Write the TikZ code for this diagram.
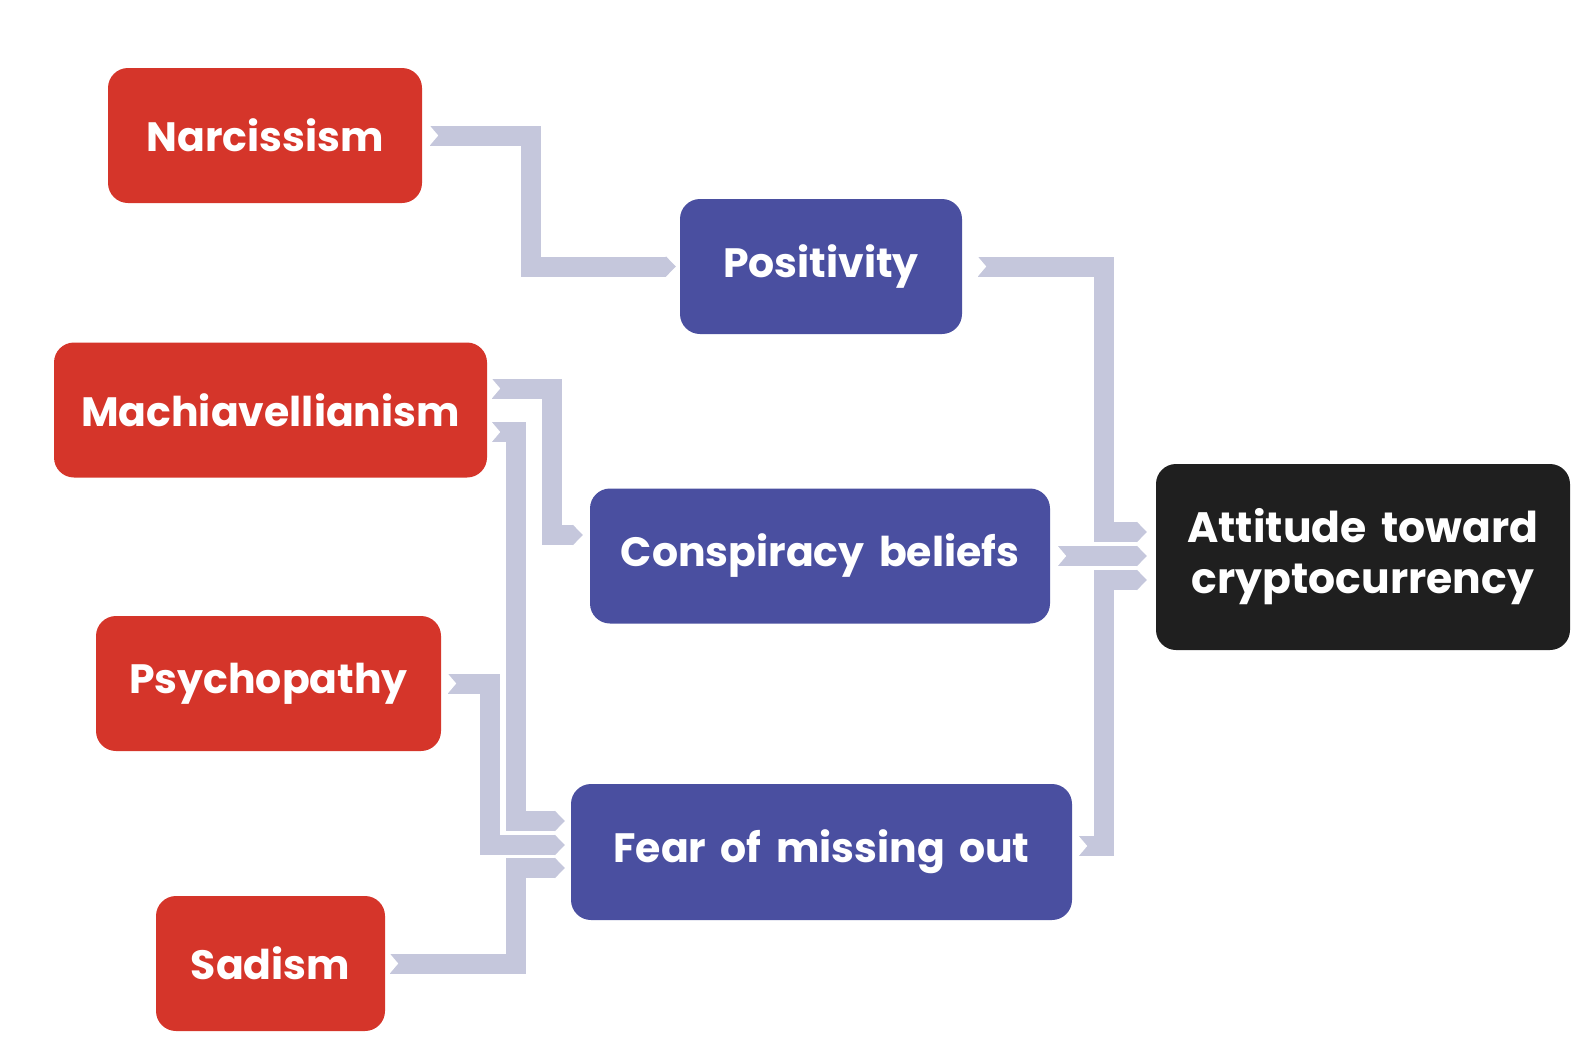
\documentclass[tikz,border=0pt]{standalone}
\usepackage{fontspec}
\setmainfont{Poppins}[WordSpace=1.65]
\usetikzlibrary{arrows.meta}
\definecolor{redbox}{HTML}{D5352A}
\definecolor{bluebox}{HTML}{4A4FA0}
\definecolor{blackbox}{HTML}{1F1F1F}
\definecolor{band}{HTML}{C5C7DC}
\begin{document}
\begin{tikzpicture}[x=1pt,y=-1pt,
  box/.style={rounded corners=20pt, minimum height=135pt, inner sep=0pt, text=white,
    font=\bfseries\fontsize{41}{51}\selectfont, align=center},
  trait/.style={box, fill=redbox},
  med/.style={box, fill=bluebox},
  outc/.style={box, fill=blackbox, font=\bfseries\fontsize{42.5}{51}\selectfont},
  link/.style={draw=band, line width=20pt, line join=miter,
    -{Triangle[length=10pt,width=0pt 1]}},
  notch/.pic={\fill[white] (-1,-10.6) -- (8,0) -- (-1,10.6) -- cycle;}
]
\useasboundingbox (0,0) rectangle (1590,1060);
% nodes
\node[trait, minimum width=314pt] (nar) at (265,135.5) {Narcissism};
\node[trait, minimum width=433pt] (mac) at (270.5,410) {Machiavellianism};
\node[trait, minimum width=345pt] (psy) at (268.5,683.5) {Psychopathy};
\node[trait, minimum width=229pt] (sad) at (270.5,963.5) {Sadism};
\node[med, minimum width=282pt] (pos) at (821,266.5) {Positivity};
\node[med, minimum width=460pt] (con) at (820,556) {Conspiracy beliefs};
\node[med, minimum width=501pt, minimum height=136pt] (fom) at (821.5,852) {Fear of missing out};
\node[outc, minimum width=414pt, minimum height=186pt] (att) at (1363,557) {Attitude toward\\cryptocurrency};
% start points
\coordinate (sNar) at ([xshift=8pt]nar.east);
\coordinate (sMacA) at ([xshift=5pt,yshift=21.5pt]mac.east);
\coordinate (sMacB) at ([xshift=5pt,yshift=-22pt]mac.east);
\coordinate (sPsy) at ([xshift=7pt]psy.east);
\coordinate (sSad) at ([xshift=5pt]sad.east);
\coordinate (sPos) at ([xshift=16pt]pos.east);
\coordinate (sCon) at ([xshift=8pt]con.east);
\coordinate (sFom) at ([xshift=7pt,yshift=6pt]fom.east);
% connectors
\draw[link] (sNar) -| (531,266.5) -- ([xshift=-4pt]pos.west);
\draw[link] (sMacA) -| ([xshift=-38pt,yshift=21pt]con.west) -- ([xshift=-7pt,yshift=21pt]con.west);
\draw[link] (sMacB) -| ([xshift=-55pt,yshift=31pt]fom.west) -- ([xshift=-6pt,yshift=31pt]fom.west);
\draw[link] (sPsy) -| ([xshift=-81pt,yshift=7pt]fom.west) -- ([xshift=-6pt,yshift=7pt]fom.west);
\draw[link] (sSad) -| ([xshift=-55pt,yshift=-16pt]fom.west) -- ([xshift=-6pt,yshift=-16pt]fom.west);
\draw[link] (sPos) -| ([xshift=-52pt,yshift=25pt]att.west) -- ([xshift=-9pt,yshift=25pt]att.west);
\draw[link] (sCon) -- ([xshift=-9pt]att.west |- sCon);
\draw[link] (sFom) -| ([xshift=-52pt,yshift=-23pt]att.west) -- ([xshift=-9pt,yshift=-23pt]att.west);
% notches
\foreach \s in {sNar,sMacA,sMacB,sPsy,sSad,sPos,sCon,sFom}{\pic at (\s) {notch};}
\end{tikzpicture}
\end{document}
